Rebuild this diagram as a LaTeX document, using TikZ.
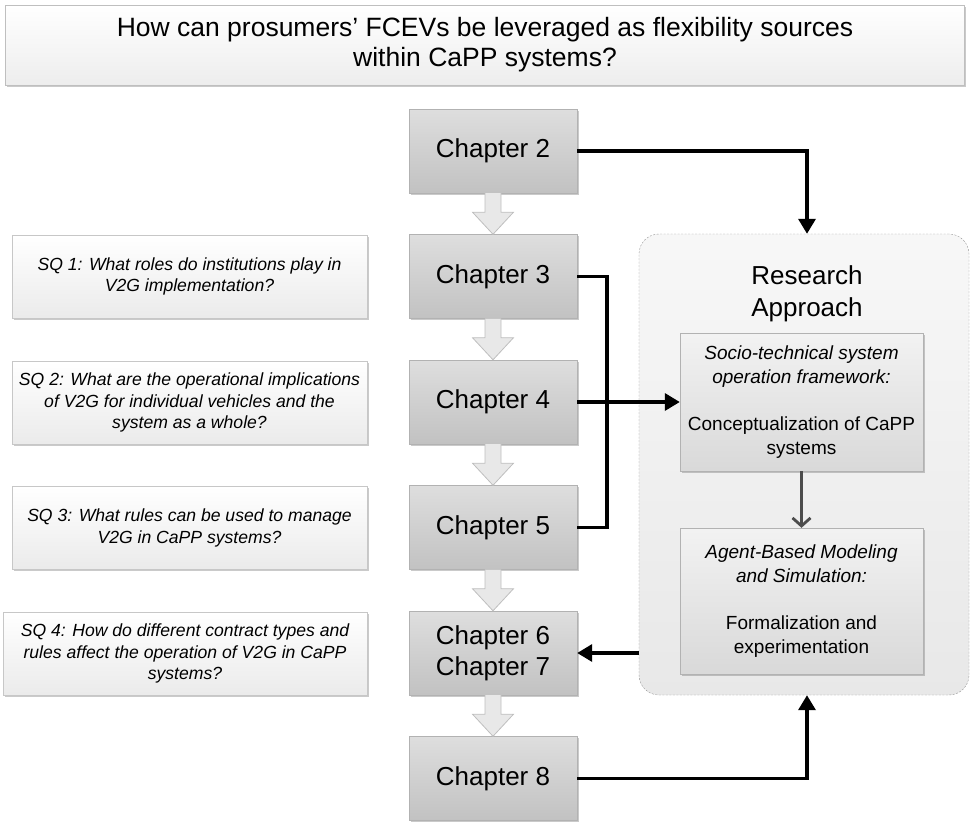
\documentclass[tikz,border=0pt]{standalone}
\usepackage{fontspec}
\setmainfont{Liberation Sans}
\usetikzlibrary{arrows.meta,calc,shadows}
\begin{document}
\begin{tikzpicture}[x=1pt,y=-1pt,
  shad/.style={drop shadow={shadow xshift=1.5pt,shadow yshift=-1.5pt,opacity=0.35,fill=black!60}},
  titlebox/.style={draw=black!25, top color=white, bottom color=black!7, shad, minimum width=959pt, minimum height=80pt, align=center, font=\fontsize{26.5}{30}\selectfont, inner sep=0pt},
  chapbox/.style={draw=black!30, top color=black!13, bottom color=black!24, shad, minimum width=168pt, minimum height=84pt, align=center, font=\fontsize{26}{31}\selectfont, inner sep=0pt},
  sqbox/.style={draw=black!22, top color=white, bottom color=black!8, shad, minimum height=83pt, align=center, font=\fontsize{17.6}{21.5}\selectfont\itshape, inner sep=0pt},
  rabox/.style={draw=black!40, dash pattern=on 2pt off 1.5pt, rounded corners=20pt, top color=black!3, bottom color=black!9, minimum width=330pt, minimum height=461pt},
  inbox/.style={draw=black!30, top color=black!5, bottom color=black!15, shad, minimum width=243pt, align=center, font=\fontsize{19}{23.5}\selectfont, inner sep=0pt},
  conn/.style={line width=3.4pt, line join=miter},
  tip/.style={-{Triangle[length=15pt,width=17pt]}},
  barrow/.style={draw=black!25, fill=black!9, line width=0.8pt}
]
\useasboundingbox (0,0) rectangle (970,822);

% title
\node[titlebox] (title) at (485,45) {How can prosumers’ FCEVs be leveraged as flexibility sources\\within CaPP systems?};

% research approach container
\node[rabox] (ra) at (804,464.5) {};
\node[align=center, font=\fontsize{26}{32}\selectfont, inner sep=0pt] (ratitle) at (807,294) {Research\\Approach};
\node[inbox, minimum height=138pt] (st) at (801.5,402) {\textit{Socio-technical system}\\\textit{operation framework:}\\[24pt]Conceptualization of CaPP\\systems};
\node[inbox, minimum height=146pt] (ab) at (801.5,601) {\textit{Agent-Based Modeling}\\\textit{and Simulation:}\\[24pt]Formalization and\\experimentation};

% chapters
\node[chapbox] (c2) at (493,151) {Chapter 2};
\node[chapbox] (c3) at (493,276.5) {Chapter 3};
\node[chapbox] (c4) at (493,402) {Chapter 4};
\node[chapbox] (c5) at (493,527.5) {Chapter 5};
\node[chapbox] (c67) at (493,653) {Chapter 6\\Chapter 7};
\node[chapbox] (c8) at (493,778.5) {Chapter 8};

% sub-questions
\node[sqbox, minimum width=355pt] (sq1) at (189.5,276.5) {SQ 1: What roles do institutions play in\\V2G implementation?};
\node[sqbox, minimum width=355pt] (sq2) at (189.5,402.5) {SQ 2: What are the operational implications\\of V2G for individual vehicles and the\\system as a whole?};
\node[sqbox, minimum width=355pt] (sq3) at (189.5,528) {SQ 3: What rules can be used to manage\\V2G in CaPP systems?};
\node[sqbox, minimum width=364pt] (sq4) at (185,653.5) {SQ 4: How do different contract types and\\rules affect the operation of V2G in CaPP\\systems?};

% block arrows between chapters
\foreach \a/\b in {c2/c3,c3/c4,c4/c5,c5/c67,c67/c8}
  \draw[barrow] ($(\a.south)+(-8,0)$) -- ++(0,19) -- ++(-12.5,0) -- (\b.north) -- ($(\a.south)+(20.5,19)$) -- ++(-12.5,0) -- ($(\a.south)+(8,0)$);

% connectors
\coordinate (jx) at (607,0);
\draw[conn,tip] (c2.east) -| ($(ra.north)+(3,0)$);
\draw[conn] (c3.east) -- (c3.east -| jx) -- (c5.east -| jx) -- (c5.east);
\draw[conn,tip] (c4.east) -- (st.west);
\draw[conn,tip] (ra.west |- c67.east) -- (c67.east);
\draw[conn,tip] (c8.east) -| ($(ra.south)+(3,0)$);
\draw[line width=2.8pt, draw=black!70, -{Straight Barb[length=8pt,width=18pt]}] (st.south) -- (ab.north);
\end{tikzpicture}
\end{document}
